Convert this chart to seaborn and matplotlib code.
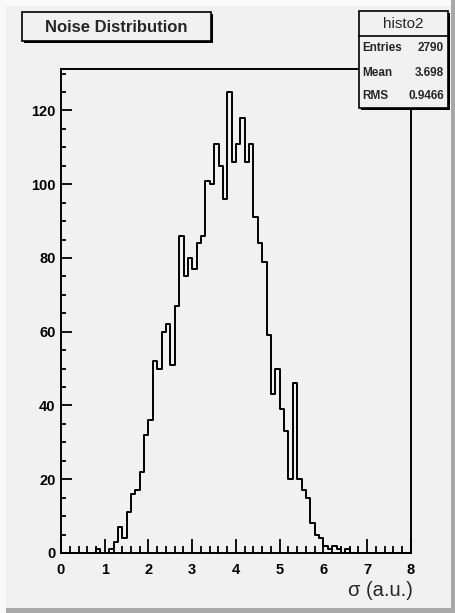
import numpy as np
import pandas as pd
import matplotlib
matplotlib.use("Agg")
import matplotlib.pyplot as plt
from matplotlib.patches import Rectangle
from matplotlib.ticker import MultipleLocator
import seaborn as sns

# Noise histogram: 80 bins of width 0.1 covering sigma in [0, 8)
bin_width = 0.1
x_range = (0.0, 8.0)
counts = [
    0, 0, 0, 0, 0, 0, 0, 0, 1, 0,
    0, 1, 3, 7, 4, 11, 16, 17, 22, 32,
    36, 52, 50, 60, 62, 51, 67, 86, 75, 80,
    77, 84, 86, 101, 100, 111, 105, 96, 125, 106,
    111, 118, 106, 111, 91, 84, 79, 59, 43, 50,
    39, 33, 20, 46, 20, 17, 15, 8, 5, 4,
    2, 1, 2, 1, 0, 1, 0, 0, 0, 0,
    0, 0, 0, 0, 0, 0, 0, 0, 0, 0,
]

title_text = "Noise Distribution"
stats_name = "histo2"
stats_labels = ["Entries", "Mean", "RMS"]
stats_values = ["2790", "3.698", "0.9466"]
x_title = "σ (a.u.)"
x_ticks = [0, 1, 2, 3, 4, 5, 6, 7, 8]
y_ticks = [0, 20, 40, 60, 80, 100, 120]

sns.set_style("ticks")
plt.rcParams["font.family"] = ["Liberation Sans", "DejaVu Sans"]

BG = "#f1f1f1"
W, H = 456, 613
fig = plt.figure(figsize=(W / 100, H / 100), dpi=100, facecolor=BG)


def fx(px):
    return px / W


def fy(py):
    return 1 - py / H


def frect(x0, y0, x1, y1, **kw):
    """Rectangle given in pixel corners (top-left, bottom-right)."""
    r = Rectangle((fx(x0), fy(y1)), fx(x1) - fx(x0), fy(y0) - fy(y1),
                  transform=fig.transFigure, **kw)
    fig.add_artist(r)
    return r


# canvas bevel
frect(0, 0, W, 6, facecolor="#fbfbfb", edgecolor="none")
frect(0, 0, 6, H, facecolor="#f8f8f8", edgecolor="none")
frect(W - 5, 0, W, H, facecolor="#a8a8a8", edgecolor="none")
frect(6, H - 5, W, H, facecolor="#a8a8a8", edgecolor="none")

# plotting frame
ax = fig.add_axes([fx(61), fy(553), fx(411) - fx(61), fy(69) - fy(553)])
ax.set_facecolor(BG)

n_bins = len(counts)
hist_df = pd.DataFrame({
    "sigma": x_range[0] + bin_width * (np.arange(n_bins) + 0.5),
    "entries": counts,
})
sns.histplot(data=hist_df, x="sigma", weights="entries",
             binwidth=bin_width, binrange=x_range,
             element="step", fill=False, color="black", linewidth=1.4, ax=ax)

ax.set_xlim(*x_range)
ax.set_ylim(0, 1.05 * max(counts))
ax.set_xlabel("")
ax.set_ylabel("")
for s in ax.spines.values():
    s.set_visible(True)
    s.set_color("black")
    s.set_linewidth(1.4)

ax.set_xticks(x_ticks)
ax.set_xticklabels([str(t) for t in x_ticks])
ax.set_yticks(y_ticks)
ax.set_yticklabels([str(t) for t in y_ticks])
ax.xaxis.set_minor_locator(MultipleLocator(0.2))
ax.yaxis.set_minor_locator(MultipleLocator(5))
ax.tick_params(which="both", bottom=True, left=True, top=False, right=False,
               direction="in", color="black")
ax.tick_params(axis="x", which="major", length=10.4, width=1.3, pad=7,
               labelsize=10.5, labelcolor="black")
ax.tick_params(axis="x", which="minor", length=5.2, width=1.3)
ax.tick_params(axis="y", which="major", length=7.6, width=1.3, pad=4,
               labelsize=10.5, labelcolor="black")
ax.tick_params(axis="y", which="minor", length=3.8, width=1.3)
for lab in ax.get_xticklabels() + ax.get_yticklabels():
    lab.set_fontweight("bold")

fig.text(fx(413), fy(590), x_title, ha="right", va="center", fontsize=14.5)

# title pave with shadow
frect(24, 14, 213, 43, facecolor="black", edgecolor="none")
frect(22, 12, 211, 41, facecolor=BG, edgecolor="black", linewidth=1.2)
fig.text(fx(116), fy(28), title_text, ha="center", va="center",
         fontsize=12, fontweight="bold")

# statistics pave
frect(361, 13, 450, 110, facecolor="black", edgecolor="none", zorder=5)
frect(359, 11, 448, 108, facecolor=BG, edgecolor="black", linewidth=1.2,
      zorder=6)
fig.add_artist(plt.Line2D([fx(359), fx(448)], [fy(36), fy(36)],
                          transform=fig.transFigure, color="black",
                          linewidth=1.2, zorder=7))
fig.text(fx(403.5), fy(24), stats_name, ha="center", va="center",
         fontsize=11, zorder=8)
row_y = [48, 73, 96]
for ypix, lab, val in zip(row_y, stats_labels, stats_values):
    fig.text(fx(362), fy(ypix), lab, ha="left", va="center", fontsize=8.5,
             fontweight="bold", zorder=8)
    fig.text(fx(444), fy(ypix), val, ha="right", va="center", fontsize=8.5,
             fontweight="bold", zorder=8)

fig.savefig("out.png", dpi=100, facecolor=BG)
